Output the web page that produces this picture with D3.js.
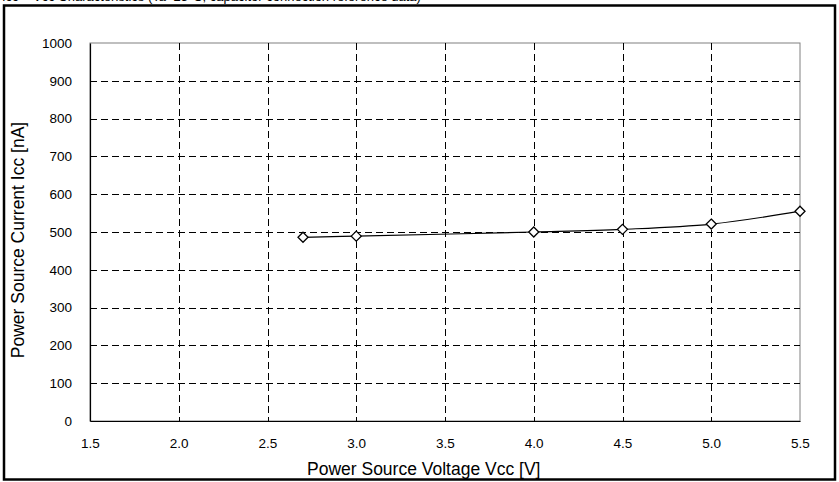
<!DOCTYPE html>
<html><head><meta charset="utf-8">
<script src="https://cdn.jsdelivr.net/npm/d3@7"></script>
<style>body{margin:0;background:#fff}svg{display:block}text{font-family:"Liberation Sans",Arial,sans-serif;fill:#000}</style>
</head><body><div id="c"></div>
<script>
const voltage = [2.7, 3.0, 4.0, 4.5, 5.0, 5.5];
const current = [486, 489, 500, 507, 521, 555];
const xTicks = [1.5, 2.0, 2.5, 3.0, 3.5, 4.0, 4.5, 5.0, 5.5];
const yTicks = [0, 100, 200, 300, 400, 500, 600, 700, 800, 900, 1000];
const title = "Icc – Vcc Characteristics (Ta=25°C, capacitor connection reference data)";
const xTitle = "Power Source Voltage Vcc [V]";
const yTitle = "Power Source Current Icc [nA]";

const W = 839, H = 482;
const m = {l: 90, r: 39, t: 43, b: 61};
const svg = d3.select("#c").append("svg").attr("width", W).attr("height", H);

svg.append("text").attr("x", 2).attr("y", 1).attr("font-size", 13).text(title);

const x = d3.scaleLinear().domain([1.5, 5.5]).range([m.l, W - m.r]);
const y = d3.scaleLinear().domain([0, 1000]).range([H - m.b, m.t]);

// plot area border
svg.append("rect").attr("x", x(1.5)).attr("y", y(1000)).attr("width", x(5.5) - x(1.5))
  .attr("height", y(0) - y(1000)).attr("fill", "none").attr("stroke", "#808080").attr("stroke-width", 1);

// grid
const g = svg.append("g").attr("stroke", "#000").attr("stroke-width", 1).attr("stroke-dasharray", "7,4");
g.selectAll(".gy").data(yTicks.filter(d => d > 0 && d < 1000)).enter().append("line")
  .attr("x1", x(1.5)).attr("x2", x(5.5)).attr("y1", d => Math.round(y(d)) + 0.5).attr("y2", d => Math.round(y(d)) + 0.5);
g.selectAll(".gx").data(xTicks.filter(d => d > 1.5 && d < 5.5)).enter().append("line")
  .attr("y1", y(1000)).attr("y2", y(0)).attr("x1", d => Math.round(x(d)) + 0.5).attr("x2", d => Math.round(x(d)) + 0.5);

// axes
const xAxis = d3.axisBottom(x).tickValues(xTicks).tickFormat(d3.format(".1f")).tickSize(0).tickPadding(17);
const yAxis = d3.axisLeft(y).tickValues(yTicks).tickFormat(d3.format("d")).tickSize(0).tickPadding(18);
const gx = svg.append("g").attr("transform", `translate(0,${y(0)})`).call(xAxis);
const gy = svg.append("g").attr("transform", `translate(${x(1.5)},0)`).call(yAxis);
[gx, gy].forEach(a => {
  a.select(".domain").attr("stroke", "#000").attr("stroke-width", 1.2);
  a.selectAll("text").attr("font-size", 13.5).attr("font-family", '"Liberation Sans",Arial,sans-serif');
});

svg.append("text").attr("x", 307).attr("y", 475).attr("text-anchor", "start")
  .attr("font-size", 17.5).text(xTitle);
svg.append("text").attr("transform", `translate(24,240) rotate(-90)`)
  .attr("text-anchor", "middle").attr("font-size", 17.5).text(yTitle);

svg.append("rect").attr("x", 4).attr("y", 5.5).attr("width", 831).attr("height", 474)
  .attr("fill", "none").attr("stroke", "#000").attr("stroke-width", 2.5);

const pts = voltage.map((v, i) => [v, current[i]]);
svg.append("path").datum(pts)
  .attr("d", d3.line().x(d => x(d[0])).y(d => y(d[1])).curve(d3.curveCatmullRom))
  .attr("fill", "none").attr("stroke", "#000").attr("stroke-width", 1.2);

svg.selectAll(".mk").data(pts).enter().append("path")
  .attr("transform", d => `translate(${x(d[0])},${y(d[1])})`)
  .attr("d", "M0,-5L5,0L0,5L-5,0Z").attr("fill", "#fff").attr("stroke", "#000").attr("stroke-width", 1.3);
</script></body></html>
